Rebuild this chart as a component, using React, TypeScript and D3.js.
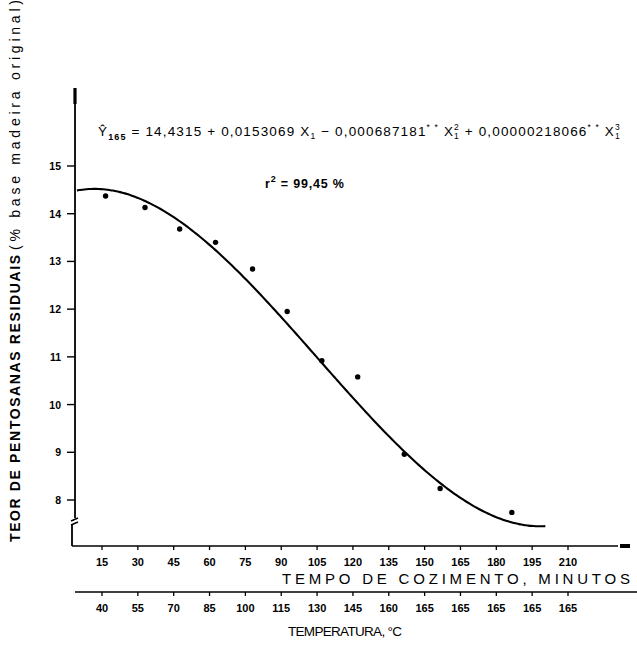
import React from "react";
import * as d3 from "d3";

// Cooking time (minutes) ticks and the matching temperature (°C) reached at each time
const minuteTicks = [15, 30, 45, 60, 75, 90, 105, 120, 135, 150, 165, 180, 195, 210];
const temperatureLabels = [40, 55, 70, 85, 100, 115, 130, 145, 160, 165, 165, 165, 165, 165];
const pentosanTicks = [8, 9, 10, 11, 12, 13, 14, 15];

// Observed residual pentosans (% o.d. wood) vs cooking time
const obsMinutes = [16.5, 33, 47.5, 62.5, 78, 92.5, 107, 122, 141.5, 156.5, 186.5];
const obsPentosans = [14.37, 14.13, 13.68, 13.4, 12.84, 11.95, 10.92, 10.58, 8.96, 8.24, 7.74];

// Fitted cubic regression: b0 + b1 X + b2 X^2 + b3 X^3
const coefficients = [14.4315, 0.0153069, -0.000687181, 0.00000218066];
const fitRange = [4.5, 201];

const W = 637;
const H = 653;
const FONT = "'Liberation Sans', 'DejaVu Sans', sans-serif";

export default function App() {
  const x = d3.scaleLinear().domain([15, 210]).range([102, 568]);
  const y = d3.scaleLinear().domain([8, 15]).range([500, 166]);

  const axisY = 546;
  const axisX = 75;
  const tempAxisY = 592;

  const fit = (t: number) =>
    coefficients.reduce((s, c, i) => s + c * Math.pow(t, i), 0);
  const fitPts = d3.range(fitRange[0], fitRange[1] + 0.01, 1).map((t) => [t, fit(t)] as [number, number]);
  const line = d3
    .line<[number, number]>()
    .x((d) => x(d[0]))
    .y((d) => y(d[1]))
    .curve(d3.curveMonotoneX);

  const obs = obsMinutes.map((m, i) => ({ m, v: obsPentosans[i] }));

  return (
    <svg
      width={W}
      height={H}
      style={{ position: "absolute", left: 0, top: 0, background: "#fff" }}
      fontFamily={FONT}
    >
      <rect width={W} height={H} fill="#fff" />

      {/* y axis with break near the bottom */}
      <line x1={axisX} x2={axisX} y1={90} y2={518} stroke="#000" strokeWidth={1.8} />
      <line x1={axisX} x2={axisX} y1={88} y2={104} stroke="#000" strokeWidth={3.2} />
      <path d={`M${axisX - 4},521 L${axisX + 3},518`} stroke="#000" strokeWidth={1.5} fill="none" />
      <path d={`M${axisX - 4},525 L${axisX + 3},522`} stroke="#000" strokeWidth={1.5} fill="none" />
      <line x1={axisX - 3} x2={axisX - 3} y1={524} y2={axisY} stroke="#000" strokeWidth={1.8} />

      {/* time axis */}
      <line x1={axisX - 3} x2={618} y1={axisY} y2={axisY} stroke="#000" strokeWidth={1.5} />
      <rect x={620} y={axisY - 2} width={10} height={4} fill="#000" />

      {pentosanTicks.map((t) => (
        <g key={`yt${t}`}>
          <line x1={axisX - 8} x2={axisX} y1={y(t)} y2={y(t)} stroke="#000" strokeWidth={1.4} />
          <text x={axisX - 14} y={y(t) + 4} textAnchor="end" fontSize={10.5} fontWeight="bold">
            {t}
          </text>
        </g>
      ))}

      {minuteTicks.map((t) => (
        <g key={`xt${t}`}>
          <line x1={x(t)} x2={x(t)} y1={axisY} y2={axisY + 4} stroke="#000" strokeWidth={1.3} />
          <text x={x(t)} y={axisY + 20} textAnchor="middle" fontSize={11} fontWeight="bold">
            {t}
          </text>
        </g>
      ))}

      <text x={282} y={584} fontSize={15} textLength={348} lengthAdjust="spacing">
        TEMPO DE COZIMENTO, MINUTOS
      </text>

      {/* temperature axis */}
      <line x1={axisX} x2={637} y1={tempAxisY} y2={tempAxisY} stroke="#000" strokeWidth={1.5} />
      {minuteTicks.map((t, i) => (
        <g key={`tt${i}`}>
          <line x1={x(t)} x2={x(t)} y1={tempAxisY} y2={tempAxisY + 4} stroke="#000" strokeWidth={1.3} />
          <text x={x(t)} y={tempAxisY + 20} textAnchor="middle" fontSize={11} fontWeight="bold">
            {temperatureLabels[i]}
          </text>
        </g>
      ))}
      <text x={288} y={636} fontSize={13.5} textLength={114} lengthAdjust="spacing">
        TEMPERATURA, °C
      </text>

      {/* y axis title */}
      <g transform="translate(20,542) rotate(-90)">
        <text x={0} y={0} fontSize={14} fontWeight="bold" textLength={287} lengthAdjust="spacing">
          TEOR DE PENTOSANAS RESIDUAIS
        </text>
        <text x={292} y={0} fontSize={14} textLength={250} lengthAdjust="spacing">
          (% base madeira original)
        </text>
      </g>

      {/* fitted curve and observations */}
      <path d={line(fitPts) ?? ""} fill="none" stroke="#000" strokeWidth={2.1} />
      {obs.map((d, i) => (
        <circle key={`p${i}`} cx={x(d.m)} cy={y(d.v)} r={2.7} fill="#000" />
      ))}

      {/* regression equation */}
      <text x={98} y={136} fontSize={13.5} letterSpacing={1.15}>
        <tspan>Ŷ</tspan>
        <tspan fontSize={9} fontWeight="bold" dy={4}>165</tspan>
        <tspan dy={-4}> = 14,4315 + 0,0153069  X</tspan>
        <tspan fontSize={8.5} dy={3}>1</tspan>
        <tspan dy={-3}> − 0,000687181</tspan>
        <tspan fontSize={8.5} dy={-6}>* *</tspan>
        <tspan dy={6}> X</tspan>
        <tspan fontSize={8.5} dy={-6}>2</tspan>
        <tspan fontSize={8.5} dx={-6} dy={9}>1</tspan>
        <tspan dy={-3}> + 0,00000218066</tspan>
        <tspan fontSize={8.5} dy={-6}>* *</tspan>
        <tspan dy={6}> X</tspan>
        <tspan fontSize={8.5} dy={-6}>3</tspan>
        <tspan fontSize={8.5} dx={-6} dy={9}>1</tspan>
      </text>
      <text x={265} y={188} fontSize={12.5} fontWeight="bold" letterSpacing={0.8}>
        <tspan>r</tspan>
        <tspan fontSize={9} dy={-6}>2</tspan>
        <tspan dy={6}> = 99,45 %</tspan>
      </text>
    </svg>
  );
}
